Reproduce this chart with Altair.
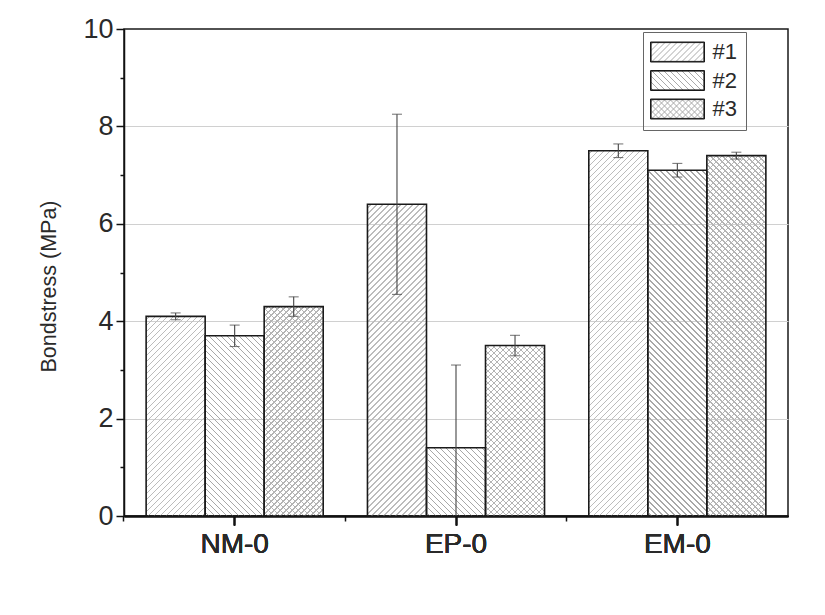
import math
import altair as alt

# ---------------- data ----------------
groups = ["NM-0", "EP-0", "EM-0"]
series = ["#1", "#2", "#3"]
values = {
    "#1": [4.10, 6.40, 7.50],
    "#2": [3.70, 1.40, 7.10],
    "#3": [4.30, 3.50, 7.40],
}
errors = {
    "#1": [0.07, 1.85, 0.14],
    "#2": [0.22, 1.70, 0.14],
    "#3": [0.20, 0.21, 0.07],
}
y_ticks = list(range(0, 11))

# ---------------- layout / style ----------------
PLOT_W, PLOT_H = 664, 487
Y_MAX = 10
PX_PER_UNIT = PLOT_H / Y_MAX
STEP = PLOT_W / (3 - 0.2 + 2 * 0.1)
BAR_W = STEP * 0.8 / 3
CLEAR = "rgba(255,255,255,0)"
HATCH_COLOR = {"#1": "#bcbcbc", "#2": "#a8a8a8", "#3": "#b4b4b4"}
SYM_W, SYM_H = 54, 20
SYM_SCALE = SYM_H / 2            # path units -> px
SYM_SIZE = SYM_H * SYM_H         # legend symbol "size" (layout uses 20px)


def rect_path(inset=0.0):
    hx = (SYM_W / 2 - inset) / SYM_SCALE
    hy = (SYM_H / 2 - inset) / SYM_SCALE
    return f"M{-hx:.4f},{-hy:.4f}H{hx:.4f}V{hy:.4f}H{-hx:.4f}Z"


# doubled outline -> looks like a ~1.6 px frame while stroke width stays 1
OUTLINE_PATH = rect_path(0.0) + rect_path(0.6)


def hatch(w, h, direction, color, period=6.0, lw=1.0):
    """Linear gradient (bbox units) that looks like 45-degree hatching."""
    s = (w + h) / (w * w + h * h)
    if direction == "/":
        x1, y1, x2, y2 = 0, 0, s * w, s * h
    else:
        x1, y1, x2, y2 = 0, 1, s * w, 1 - s * h
    L = w + h
    dt = period / L
    dl = lw * math.sqrt(2) / L
    stops = [{"offset": 0, "color": CLEAR}]
    i = 0
    while True:
        a = (i + 0.5) * dt
        if a >= 1:
            break
        b = min(a + dl, 1)
        stops += [
            {"offset": round(a, 5), "color": CLEAR},
            {"offset": round(a, 5), "color": color},
            {"offset": round(b, 5), "color": color},
            {"offset": round(b, 5), "color": CLEAR},
        ]
        i += 1
    stops.append({"offset": 1, "color": CLEAR})
    return {"gradient": "linear", "x1": round(x1, 6), "y1": round(y1, 6),
            "x2": round(x2, 6), "y2": round(y2, 6), "stops": stops}


def hatch_path(direction, period=6.0):
    """Hatch lines of a legend swatch as a symbol path (unit coords)."""
    segs = []
    W, H = SYM_W, SYM_H
    u = lambda x, y: f"{(x - W / 2) / SYM_SCALE:.4f},{(y - H / 2) / SYM_SCALE:.4f}"
    if direction == "/":
        c = period / 2
        while c < W + H:
            xa, xb = max(0, c - H), min(W, c)
            segs.append(f"M{u(xa, c - xa)}L{u(xb, c - xb)}")
            c += period
    else:
        c = -H + period / 2
        while c < W:
            xa, xb = max(0, c), min(W, c + H)
            segs.append(f"M{u(xa, xa - c)}L{u(xb, xb - c)}")
            c += period
    return "".join(segs)


DIR = {"#1": "/", "#2": "\\", "#3": "/"}

records = []
for s in series:
    for gi, g in enumerate(groups):
        v = values[s][gi]
        e = errors[s][gi]
        h = v * PX_PER_UNIT
        records.append({
            "group": g, "series": s, "outline": "o" + s, "value": v,
            "lo": v - e, "hi": v + e,
            "g1": hatch(BAR_W, h, DIR[s], HATCH_COLOR[s]),
            "g2": hatch(BAR_W, h, "\\", HATCH_COLOR[s]) if s == "#3" else None,
        })

data = alt.Data(values=records)
FONT = "Liberation Sans"
TEXT_COLOR = "#2a2a2a"

x_scale = alt.Scale(paddingInner=0.2, paddingOuter=0.1)
x_enc = alt.X("group:N", sort=groups, scale=x_scale,
              axis=alt.Axis(title=None, labelFontSize=28, labelFont=FONT,
                            labelFontWeight="normal",
                            labelColor=TEXT_COLOR, labelAngle=0, labelPadding=5,
                            tickSize=9, tickWidth=1.5, tickColor="#111",
                            domainColor="#111", domainWidth=1.5, orient="bottom"))
xo_enc = alt.XOffset("series:N", sort=series, scale=alt.Scale(paddingInner=0, paddingOuter=0))
y_scale = alt.Scale(domain=[0, Y_MAX], nice=False)
y_enc = alt.Y("value:Q", scale=y_scale, stack=None,
              axis=alt.Axis(
                  title="Bondstress (MPa)", titleFontSize=21.5, titleFont=FONT,
                  titleFontWeight="normal", titleColor=TEXT_COLOR, titlePadding=22,
                  titleY=257,
                  values=y_ticks,
                  labelExpr="datum.value % 2 === 0 ? datum.label : ''",
                  labelFontSize=27, labelFont=FONT, labelFontWeight="normal",
                  labelColor=TEXT_COLOR, labelPadding=3,
                  tickSize={"condition": {"test": "datum.value % 2 === 1", "value": 4}, "value": 8},
                  tickWidth=1.5, tickColor="#111",
                  domainColor="#111", domainWidth=1.5,
                  grid=True, gridColor="#d0d0d0", gridWidth=1.2,
                  gridOpacity={"condition": {
                      "test": "datum.value % 2 === 1 || datum.value === 0 || datum.value === 10",
                      "value": 0}, "value": 1},
              ))

base = alt.Chart(data)

overlay = base.mark_bar(strokeWidth=0).encode(
    x=x_enc, xOffset=xo_enc, y=y_enc,
    color=alt.Color("g2:N", scale=None),
).transform_filter("datum.series === '#3'")

bars = base.mark_bar(stroke="#1a1a1a", strokeWidth=1.6).encode(
    x=x_enc, xOffset=xo_enc, y=y_enc,
    color=alt.Color("g1:N", scale=None),
)

err = base.mark_rule(color="#444", strokeWidth=1.1, clip=True).encode(
    x=x_enc, xOffset=xo_enc,
    y=alt.Y("lo:Q", scale=y_scale), y2="hi:Q",
)
cap_hi = base.mark_tick(color="#444", size=10, thickness=1.1, clip=True).encode(
    x=x_enc, xOffset=xo_enc, y=alt.Y("hi:Q", scale=y_scale),
)
cap_lo = base.mark_tick(color="#444", size=10, thickness=1.1, clip=True).encode(
    x=x_enc, xOffset=xo_enc, y=alt.Y("lo:Q", scale=y_scale),
)

# minor ticks at the group boundaries
minor_x = base.mark_point(opacity=0).encode(
    x=alt.X("group:N", sort=groups, scale=x_scale,
            axis=alt.Axis(title=None, labels=False, domain=False, orient="bottom",
                          bandPosition=-0.125, tickSize=5, tickWidth=1.5, tickColor="#111")),
)

LEG_X, LEG_Y = 519, 3
common_leg = dict(
    title=None, orient="none", legendX=LEG_X, legendY=LEG_Y,
    symbolSize=SYM_SIZE, symbolOpacity=1, symbolOffset=14.5, symbolStrokeWidth=1,
    labelFontSize=22, labelFont=FONT, labelColor=TEXT_COLOR, labelOffset=24,
    padding=9, rowPadding=4.5,
)

# legend B: black outlines of the swatches, labels blank
legend_b = base.mark_point(opacity=0, filled=True, stroke="#1a1a1a", strokeWidth=1).encode(
    fill=alt.Fill("outline:N", sort=["o" + s for s in series],
                  scale=alt.Scale(domain=["o" + s for s in series], range=[CLEAR, CLEAR, CLEAR]),
                  legend=alt.Legend(symbolType=OUTLINE_PATH, labelExpr="''",
                                    symbolStrokeColor="#1a1a1a", **common_leg)),
)
# legend A: hatch lines of each swatch (shape = hatch path) + labels + frame
legend_a = base.mark_point(opacity=0, color="#aaaaaa", strokeWidth=1).encode(
    shape=alt.Shape("series:N", sort=series,
                    scale=alt.Scale(domain=series, range=[
                        hatch_path("/"), hatch_path("\\"), hatch_path("/") + hatch_path("\\")]),
                    legend=alt.Legend(strokeColor="#666", symbolStrokeColor="#aaaaaa",
                                      **common_leg)),
)

chart = alt.layer(
    overlay, bars, err, cap_hi, cap_lo, minor_x, legend_a, legend_b
).resolve_axis(x="independent").properties(
    width=PLOT_W, height=PLOT_H,
    autosize=alt.AutoSizeParams(type="none"),
    padding={"left": 124, "top": 29, "right": 37, "bottom": 99},
    background="white",
).configure_view(stroke="#1a1a1a", strokeWidth=1.5)

chart.save("out.html", embed_options={"renderer": "svg", "actions": False})
